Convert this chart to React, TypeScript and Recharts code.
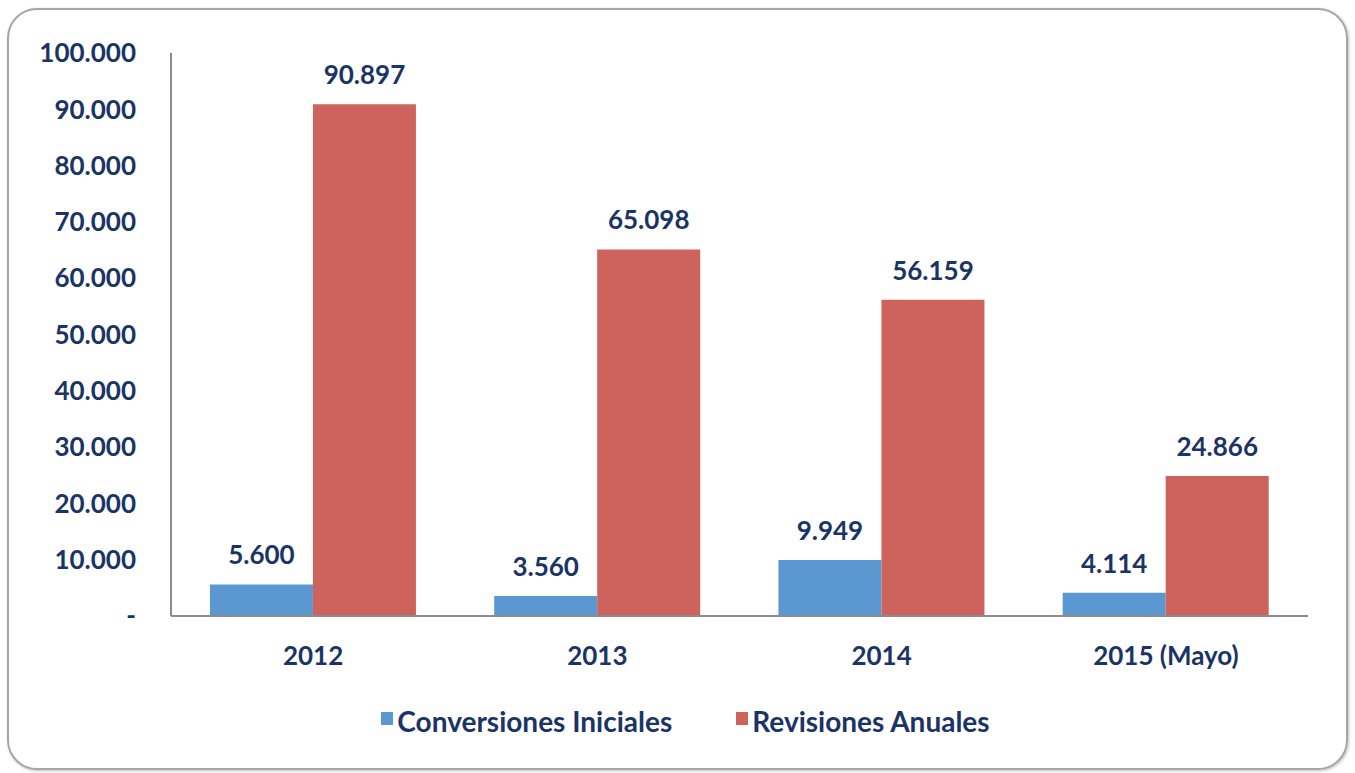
import { BarChart, Bar, XAxis, YAxis, Legend, LabelList } from 'recharts';

const categories = ['2012', '2013', '2014', '2015 (Mayo)'];
const conversiones = [5600, 3560, 9949, 4114];
const revisiones = [90897, 65098, 56159, 24866];
const yTicks = [0, 10000, 20000, 30000, 40000, 50000, 60000, 70000, 80000, 90000, 100000];

const BLUE = '#5b97d0';
const RED = '#cd635c';
const NAVY = '#1b3466';
const FONT = 'Lato, "Open Sans", sans-serif';

const data = categories.map((c, i) => ({
  name: c,
  conversiones: conversiones[i],
  revisiones: revisiones[i],
}));

// 90897 -> "90.897", 0 -> "-"
const fmt = (v: number) => {
  if (!v) return '-';
  return String(Math.round(v)).replace(/\B(?=(\d{3})+(?!\d))/g, '.');
};

const legendItems = [
  { label: 'Conversiones Iniciales', color: BLUE },
  { label: 'Revisiones Anuales', color: RED },
];

const LegendBox = () => (
  <div style={{ display: 'flex', justifyContent: 'center', gap: 64, paddingLeft: 16, fontFamily: FONT, fontWeight: 700, fontSize: 28, color: NAVY }}>
    {legendItems.map((it) => (
      <div key={it.label} style={{ display: 'flex', alignItems: 'center', gap: 4 }}>
        <span style={{ width: 12, height: 13, background: it.color, display: 'inline-block', marginBottom: 5 }} />
        <span>{it.label}</span>
      </div>
    ))}
  </div>
);

export default function App() {
  const tickStyle = { fill: NAVY, fontSize: 26, fontWeight: 700, fontFamily: FONT };
  return (
    <div style={{ position: 'fixed', left: 0, top: 0, width: 1355, height: 773, background: '#fff' }}>
      <div
        style={{
          position: 'absolute', left: 7, top: 8, width: 1337, height: 758,
          border: '2px solid #a6a6a6', borderRadius: 30,
          boxShadow: '1px 1px 3px rgba(0,0,0,0.25)',
        }}
      />
      <div style={{ position: 'absolute', left: 0, top: 0 }}>
        <BarChart
          width={1355}
          height={773}
          data={data}
          margin={{ top: 53, right: 47, bottom: 0, left: 0 }}
          barCategoryGap="13.7%"
          barGap={0}
        >
          <XAxis
            dataKey="name"
            tick={tickStyle}
            tickLine={false}
            tickSize={0}
            tickMargin={31}
            axisLine={{ stroke: '#8c8c8c', strokeWidth: 2 }}
            height={157}
          />
          <YAxis
            width={171}
            domain={[0, 100000]}
            ticks={yTicks}
            interval={0}
            tickFormatter={fmt}
            tick={tickStyle}
            tickLine={false}
            tickSize={0}
            tickMargin={35}
            axisLine={{ stroke: '#8c8c8c', strokeWidth: 2 }}
          />
          <Legend
            layout="horizontal"
            verticalAlign="middle"
            align="center"
            wrapperStyle={{ position: 'absolute', top: 704, left: 0, width: 1355 }}
            content={() => <LegendBox />}
          />
          <Bar dataKey="conversiones" name="Conversiones Iniciales" fill={BLUE} isAnimationActive={false}>
            <LabelList dataKey="conversiones" position="top" offset={20} formatter={(v: any) => fmt(Number(v))} style={tickStyle} />
          </Bar>
          <Bar dataKey="revisiones" name="Revisiones Anuales" fill={RED} isAnimationActive={false}>
            <LabelList dataKey="revisiones" position="top" offset={20} formatter={(v: any) => fmt(Number(v))} style={tickStyle} />
          </Bar>
        </BarChart>
      </div>
    </div>
  );
}
